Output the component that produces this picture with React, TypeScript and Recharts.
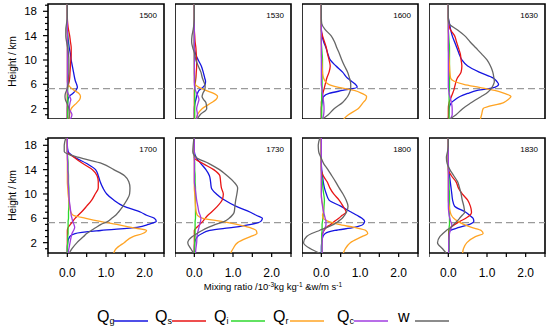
import React from "react";
import { LineChart, Line, XAxis, YAxis, ReferenceLine, ReferenceArea } from "recharts";

// heights (km) at which the profiles are sampled
const heights = [0.3, 1, 2, 3, 3.5, 4, 4.5, 5, 5.5, 6, 6.5, 7, 8, 9, 10, 11, 12, 13, 14, 15, 16, 17, 18, 19.2];

const t1500 = {
  qg: [0, 0, 0, 0.01, 0.02, 0.05, 0.14, 0.22, 0.26, 0.24, 0.21, 0.19, 0.16, 0.13, 0.1, 0.08, 0.05, 0.03, 0.01, 0, 0, 0, 0, 0],
  qs: [0, 0, 0, 0, 0, 0, 0, 0, 0.01, 0.03, 0.05, 0.06, 0.07, 0.08, 0.09, 0.1, 0.1, 0.08, 0.06, 0.03, 0.01, 0, 0, 0],
  qi: [0.01, 0.01, 0.01, 0.01, 0.01, 0.01, 0.01, 0.01, 0.01, 0.01, 0.01, 0.01, 0.01, 0.01, 0.01, 0.01, 0.01, 0.01, 0.01, 0, 0, 0, 0, 0],
  qr: [0.05, 0.06, 0.1, 0.25, 0.32, 0.34, 0.3, 0.18, 0.08, 0.02, 0, 0, 0, 0, 0, 0, 0, 0, 0, 0, 0, 0, 0, 0],
  qc: [0.08, 0.12, 0.05, 0.07, 0.09, 0.06, 0.02, 0, 0, 0, 0, 0, 0, 0, 0, 0, 0, 0, 0, 0, 0, 0, 0, 0],
  w: [0.04, 0.05, 0.04, -0.02, -0.05, -0.06, -0.05, -0.02, 0, 0.02, 0.03, 0.03, 0.04, 0.04, 0.04, 0.03, 0.01, -0.02, -0.04, -0.04, -0.02, 0, 0, 0],
};

const t1530 = {
  qg: [0, 0, 0, 0.02, 0.04, 0.06, 0.08, 0.12, 0.22, 0.28, 0.29, 0.27, 0.23, 0.18, 0.1, 0.03, 0, 0, 0, 0, 0, 0, 0, 0],
  qs: [0, 0, 0, 0, 0, 0, 0, 0, 0.01, 0.02, 0.03, 0.04, 0.05, 0.06, 0.06, 0.05, 0.04, 0.02, 0.01, 0, 0, 0, 0, 0],
  qi: [0.01, 0.01, 0.01, 0.01, 0.01, 0.01, 0.01, 0.01, 0.01, 0.01, 0.01, 0.01, 0, 0, 0, 0, 0, 0, 0, 0, 0, 0, 0, 0],
  qr: [0.05, 0.08, 0.2, 0.45, 0.56, 0.6, 0.5, 0.3, 0.12, 0.02, 0, 0, 0, 0, 0, 0, 0, 0, 0, 0, 0, 0, 0, 0],
  qc: [0.05, 0.08, 0.06, 0.1, 0.12, 0.1, 0.06, 0.03, 0.01, 0, 0, 0, 0, 0, 0, 0, 0, 0, 0, 0, 0, 0, 0, 0],
  w: [0.08, 0.15, 0.32, 0.3, 0.24, 0.2, 0.22, 0.26, 0.28, 0.27, 0.24, 0.21, 0.17, 0.1, 0.04, 0.01, -0.04, -0.07, -0.06, -0.03, -0.01, 0, 0, 0],
};

const t1600 = {
  qg: [0, 0, 0, 0.02, 0.03, 0.06, 0.2, 0.55, 0.93, 0.88, 0.78, 0.68, 0.55, 0.38, 0.23, 0.17, 0.12, 0.06, 0.02, 0, 0, 0, 0, 0],
  qs: [0, 0, 0, 0, 0.01, 0.02, 0.04, 0.06, 0.08, 0.1, 0.12, 0.14, 0.2, 0.23, 0.2, 0.16, 0.13, 0.08, 0.03, 0, 0, 0, 0, 0],
  qi: [0.01, 0.01, 0.01, 0.01, 0.01, 0.01, 0.01, 0.02, 0.02, 0.02, 0.02, 0.02, 0.03, 0.03, 0.03, 0.02, 0.01, 0, 0, 0, 0, 0, 0, 0],
  qr: [0.58, 0.7, 0.95, 1.08, 1.15, 1.17, 1.05, 0.85, 0.45, 0.19, 0.1, 0.06, 0.03, 0.02, 0.01, 0, 0, 0, 0, 0, 0, 0, 0, 0],
  qc: [0.03, 0.06, 0.07, 0.06, 0.05, 0.04, 0.03, 0.02, 0.01, 0, 0, 0, 0, 0, 0, 0, 0, 0, 0, 0, 0, 0, 0, 0],
  w: [0.03, 0.18, 0.33, 0.55, 0.62, 0.68, 0.72, 0.75, 0.76, 0.76, 0.75, 0.73, 0.68, 0.6, 0.53, 0.47, 0.4, 0.34, 0.25, 0.1, 0.01, 0, 0, 0],
};

const t1630 = {
  qg: [0, 0.01, 0.02, 0.08, 0.18, 0.3, 0.5, 0.75, 1.2, 1.3, 1.25, 1.17, 0.8, 0.5, 0.35, 0.28, 0.22, 0.16, 0.1, 0.06, 0.03, 0, 0, 0],
  qs: [0, 0, 0, 0.02, 0.05, 0.08, 0.11, 0.14, 0.16, 0.18, 0.2, 0.23, 0.33, 0.35, 0.33, 0.31, 0.26, 0.21, 0.16, 0.05, 0.01, 0, 0, 0],
  qi: [0.02, 0.02, 0.02, 0.02, 0.02, 0.02, 0.02, 0.03, 0.03, 0.03, 0.03, 0.03, 0.03, 0.03, 0.03, 0.03, 0.03, 0.02, 0.01, 0, 0, 0, 0, 0],
  qr: [0.83, 0.86, 0.9, 1.43, 1.55, 1.62, 1.45, 1.2, 0.8, 0.4, 0.15, 0.06, 0.04, 0.03, 0.02, 0.01, 0, 0, 0, 0, 0, 0, 0, 0],
  qc: [0.05, 0.1, 0.1, 0.08, 0.06, 0.04, 0.02, 0.01, 0, 0, 0, 0, 0, 0, 0, 0, 0, 0, 0, 0, 0, 0, 0, 0],
  w: [0.04, 0.2, 0.37, 0.6, 0.72, 0.85, 0.98, 1.07, 1.13, 1.17, 1.19, 1.18, 1.15, 1.09, 1.0, 0.86, 0.71, 0.56, 0.42, 0.22, 0.02, 0, 0, 0],
};

const t1700 = {
  qg: [0, 0, 0.01, 0.06, 0.2, 0.86, 1.8, 2.1, 2.3, 2.25, 2.05, 1.9, 1.45, 1.2, 1.02, 0.92, 0.85, 0.8, 0.73, 0.5, 0.2, 0.02, 0, 0],
  qs: [0, 0, 0, 0, 0, 0, 0.02, 0.08, 0.14, 0.2, 0.28, 0.36, 0.5, 0.63, 0.72, 0.8, 0.8, 0.77, 0.65, 0.4, 0.18, 0, 0, 0],
  qi: [0, 0, 0.01, 0.01, 0.02, 0.02, 0.02, 0.02, 0.02, 0.03, 0.03, 0.03, 0.04, 0.04, 0.04, 0.04, 0.03, 0.03, 0.02, 0.02, 0.01, 0, 0, 0],
  qr: [1.2, 1.26, 1.47, 1.7, 1.95, 2.05, 1.65, 1.28, 0.85, 0.48, 0.15, 0.09, 0.06, 0.04, 0.02, 0.01, 0, 0, 0, 0, 0, 0, 0, 0],
  qc: [0.02, 0.04, 0.07, 0.1, 0.12, 0.16, 0.19, 0.17, 0.14, 0.12, 0.1, 0.09, 0.07, 0.05, 0.04, 0.03, 0.02, 0.02, 0.01, 0.01, 0, 0, 0, 0],
  w: [0.05, 0.12, 0.25, 0.42, 0.5, 0.62, 0.74, 0.87, 1.05, 1.15, 1.25, 1.32, 1.44, 1.54, 1.61, 1.62, 1.59, 1.48, 1.2, 0.9, 0.3, -0.08, -0.08, -0.04],
};

const t1730 = {
  qg: [0, 0, 0.01, 0.08, 0.2, 0.4, 1.0, 1.47, 1.72, 1.76, 1.6, 1.45, 1.07, 0.78, 0.57, 0.44, 0.42, 0.39, 0.3, 0.17, 0.05, 0, 0, 0],
  qs: [0, 0, 0, 0, 0, 0, 0.06, 0.14, 0.22, 0.28, 0.35, 0.44, 0.6, 0.72, 0.75, 0.7, 0.68, 0.66, 0.5, 0.22, 0, 0, 0, 0],
  qi: [0.01, 0.01, 0.01, 0.02, 0.02, 0.02, 0.02, 0.02, 0.02, 0.03, 0.03, 0.03, 0.03, 0.03, 0.03, 0.03, 0.02, 0.02, 0.01, 0.01, 0, 0, 0, 0],
  qr: [0.94, 1.0, 1.12, 1.45, 1.62, 1.6, 1.42, 1.1, 0.7, 0.22, 0.08, 0.05, 0.03, 0.02, 0.01, 0, 0, 0, 0, 0, 0, 0, 0, 0],
  qc: [0.03, 0.04, 0.06, 0.07, 0.08, 0.1, 0.12, 0.14, 0.16, 0.17, 0.15, 0.12, 0.09, 0.06, 0.04, 0.02, 0, 0, 0, 0, 0, 0, 0, 0],
  w: [-0.02, -0.09, -0.17, -0.05, 0.07, 0.2, 0.36, 0.55, 0.78, 0.9, 0.98, 1.03, 1.05, 1.07, 1.1, 1.12, 1.02, 0.85, 0.65, 0.38, 0.05, -0.04, -0.03, -0.01],
};

const t1800 = {
  qg: [0, 0, 0.01, 0.04, 0.1, 0.35, 0.85, 1.08, 1.12, 1.05, 0.92, 0.78, 0.5, 0.2, 0.13, 0.08, 0.05, 0.03, 0.01, 0, 0, 0, 0, 0],
  qs: [0.01, 0.01, 0.01, 0.01, 0.03, 0.07, 0.13, 0.24, 0.34, 0.45, 0.54, 0.64, 0.56, 0.46, 0.32, 0.22, 0.15, 0.05, 0, 0, 0, 0, 0, 0],
  qi: [0.01, 0.01, 0.01, 0.01, 0.01, 0.02, 0.02, 0.02, 0.03, 0.04, 0.05, 0.06, 0.07, 0.08, 0.06, 0.04, 0.03, 0.01, 0, 0, 0, 0, 0, 0],
  qr: [0.57, 0.62, 0.75, 1.05, 1.2, 1.15, 0.85, 0.45, 0.18, 0.05, 0.03, 0.05, 0.04, 0.01, 0, 0, 0, 0, 0, 0, 0, 0, 0, 0],
  qc: [0.02, 0.02, 0.02, 0.03, 0.04, 0.06, 0.1, 0.12, 0.12, 0.1, 0.08, 0.06, 0.03, 0.01, 0, 0, 0, 0, 0, 0, 0, 0, 0, 0],
  w: [-0.05, -0.28, -0.46, -0.38, -0.25, -0.05, 0.15, 0.32, 0.44, 0.54, 0.6, 0.65, 0.69, 0.64, 0.56, 0.46, 0.37, 0.27, 0.17, 0.06, -0.01, -0.07, -0.08, -0.04],
};

const t1830 = {
  qg: [0.01, 0.01, 0.01, 0.01, 0.01, 0.05, 0.28, 0.55, 0.66, 0.64, 0.55, 0.45, 0.16, 0.11, 0.09, 0.07, 0.05, 0.03, 0.01, 0, 0, 0, 0, 0],
  qs: [0.01, 0.01, 0.01, 0.01, 0.01, 0.01, 0.06, 0.17, 0.3, 0.45, 0.56, 0.6, 0.57, 0.5, 0.36, 0.26, 0.2, 0.08, 0, 0, 0, 0, 0, 0],
  qi: [0.02, 0.02, 0.02, 0.02, 0.02, 0.02, 0.02, 0.03, 0.03, 0.03, 0.03, 0.03, 0.03, 0.03, 0.03, 0.02, 0.02, 0.01, 0, 0, 0, 0, 0, 0],
  qr: [0.37, 0.39, 0.48, 0.7, 0.9, 0.85, 0.6, 0.4, 0.25, 0.14, 0.08, 0.05, 0.02, 0, 0, 0, 0, 0, 0, 0, 0, 0, 0, 0],
  qc: [0.01, 0.01, 0.01, 0.02, 0.03, 0.05, 0.08, 0.09, 0.06, 0.04, 0.02, 0.01, 0, 0, 0, 0, 0, 0, 0, 0, 0, 0, 0, 0],
  w: [-0.06, -0.15, -0.28, -0.22, -0.14, -0.05, 0.06, 0.14, 0.22, 0.29, 0.36, 0.42, 0.4, 0.36, 0.33, 0.29, 0.24, 0.14, 0.04, -0.03, -0.05, -0.02, 0, 0],
};

const panelTimes = ["1500", "1530", "1600", "1630", "1700", "1730", "1800", "1830"];
const panelData = [t1500, t1530, t1600, t1630, t1700, t1730, t1800, t1830];

const seriesKeys = ["qg", "qs", "qi", "qr", "qc", "w"];
const seriesSubs = ["g", "s", "i", "r", "c", ""];
const seriesColors = ["#1515e0", "#e81515", "#2ed82e", "#ffa424", "#a03ce0", "#666666"];

const heightTicks = [1, 2, 3, 4, 5, 6, 7, 8, 9, 10, 11, 12, 13, 14, 15, 16, 17, 18, 19];
const mixTicks = [-0.5, 0, 0.5, 1, 1.5, 2, 2.5];
const meltLevel = 5.3;

const X_DOMAIN = [-0.5, 2.5];
const Y_DOMAIN = [0.3, 19.2];

const PW = 116;
const PH = 115;
const colX = [48, 175, 302, 429];
const rowY = [4, 138];
const YW = 40;
const XH = 30;
const MT = 2;
const MR = 2;

function HeightTick(props: any) {
  const { x, y, payload } = props;
  const axisX = x + 7;
  const major = (payload.value - 2) % 4 === 0;
  return (
    <g>
      <line x1={axisX} x2={axisX - (major ? 5 : 3)} y1={y} y2={y} stroke="#000" strokeWidth={1.2} />
      {major && (
        <text x={axisX - 11} y={y} dy="0.36em" textAnchor="end" fontSize={11.5} fill="#000">
          {payload.value}
        </text>
      )}
    </g>
  );
}

function Panel({ idx }: { idx: number }) {
  const col = idx % 4;
  const row = Math.floor(idx / 4);
  const p: any = panelData[idx];
  const rows = heights.map((h, i) => {
    const r: any = { h };
    seriesKeys.forEach((k) => (r[k] = p[k][i]));
    return r;
  });
  const yW = col === 0 ? YW : 0;
  const xH = row === 1 ? XH : 0;
  return (
    <div style={{ position: "absolute", left: colX[col] - yW, top: rowY[row] - MT }}>
      <LineChart
        layout="vertical"
        width={yW + PW + MR}
        height={MT + PH + xH}
        data={rows}
        margin={{ top: MT, right: MR, bottom: 0, left: 0 }}
      >
        <XAxis
          type="number"
          domain={X_DOMAIN}
          ticks={mixTicks}
          interval={0}
          allowDataOverflow
          hide={row === 0}
          height={XH}
          axisLine={false}
          tickSize={4}
          tickMargin={11}
          tickLine={{ stroke: "#000", strokeWidth: 1.2 }}
          tick={{ fontSize: 12, fill: "#000" }}
          tickFormatter={(v: number) => (Number.isInteger(v) ? v.toFixed(1) : "")}
        />
        <YAxis
          type="number"
          dataKey="h"
          domain={Y_DOMAIN}
          reversed
          ticks={heightTicks}
          interval={0}
          allowDataOverflow
          hide={col !== 0}
          width={YW}
          axisLine={false}
          tickLine={false}
          tickSize={5}
          tickMargin={2}
          tick={<HeightTick />}
        />
        <ReferenceLine y={meltLevel} stroke="#9a9a9a" strokeWidth={1.2} strokeDasharray="7 4" />
        {seriesKeys.map((k, i) => (
          <Line
            key={k}
            dataKey={k}
            type="monotone"
            stroke={seriesColors[i]}
            strokeWidth={1.3}
            dot={false}
            isAnimationActive={false}
          />
        ))}
        <ReferenceArea
          x1={X_DOMAIN[0]}
          x2={X_DOMAIN[1]}
          y1={Y_DOMAIN[0]}
          y2={Y_DOMAIN[1]}
          fill="none"
          fillOpacity={0}
          stroke="#000"
          strokeWidth={1.6}
          ifOverflow="visible"
        />
      </LineChart>
    </div>
  );
}

const legendX = [97, 155, 214, 273, 337, 398];

export default function App() {
  return (
    <div
      style={{
        position: "absolute",
        left: 0,
        top: 0,
        width: 550,
        height: 326,
        background: "#fff",
        overflow: "hidden",
        fontFamily: "'Liberation Sans', Arial, Helvetica, sans-serif",
      }}
    >
      {panelData.map((_, i) => (
        <Panel key={i} idx={i} />
      ))}
      <svg
        width={550}
        height={326}
        style={{ position: "absolute", left: 0, top: 0, pointerEvents: "none" }}
        fontFamily="'Liberation Sans', Arial, Helvetica, sans-serif"
      >
        {panelTimes.map((t, i) => (
          <text
            key={t}
            x={colX[i % 4] + PW - 7}
            y={rowY[Math.floor(i / 4)] + 13.5}
            textAnchor="end"
            fontSize={8}
            fill="#000"
          >
            {t}
          </text>
        ))}
        {rowY.map((ry, r) => (
          <text
            key={r}
            transform={`translate(16, ${ry + PH / 2}) rotate(-90)`}
            textAnchor="middle"
            fontSize={10}
            fill="#000"
          >
            Height / km
          </text>
        ))}
        <text x={273} y={290} textAnchor="middle" fontSize={9.5} fill="#000">
          Mixing ratio /10
          <tspan fontSize={6.5} dy={-3.5}>-3</tspan>
          <tspan dy={3.5}>kg kg</tspan>
          <tspan fontSize={6.5} dy={-3.5}>-1</tspan>
          <tspan dy={3.5}> &amp;w/m s</tspan>
          <tspan fontSize={6.5} dy={-3.5}>-1</tspan>
        </text>
        {seriesKeys.map((k, i) => (
          <g key={k}>
            <text x={legendX[i]} y={322} fontSize={16} fill="#000">
              {seriesSubs[i] ? "Q" : "w"}
              {seriesSubs[i] && (
                <tspan fontSize={9} dy={2}>
                  {seriesSubs[i]}
                </tspan>
              )}
            </text>
            <line
              x1={legendX[i] + 17}
              x2={legendX[i] + 51}
              y1={321}
              y2={321}
              stroke={seriesColors[i]}
              strokeWidth={1.5}
            />
          </g>
        ))}
      </svg>
    </div>
  );
}
